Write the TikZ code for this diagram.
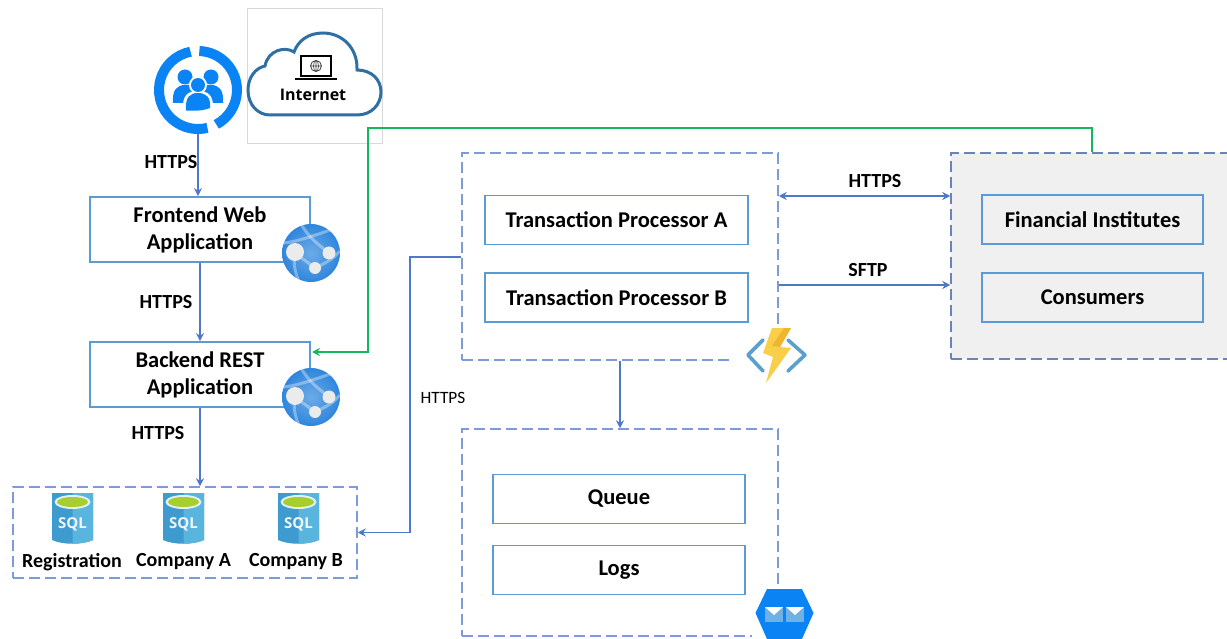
\documentclass[tikz,border=0pt]{standalone}
\usepackage{fontspec}
\setmainfont{Carlito}
\newfontfamily\iconfont{Open Sans}
\usetikzlibrary{arrows.meta,calc,shadings}
\definecolor{arrowblue}{HTML}{4F78C8}
\definecolor{boxblue}{HTML}{5B9BD5}
\definecolor{dashblue}{HTML}{7C9BDB}
\definecolor{dashgrey}{HTML}{6B84B5}
\definecolor{linkgreen}{HTML}{12B85A}
\definecolor{azure}{HTML}{0A84F5}
\definecolor{webblue}{HTML}{2F86DC}
\definecolor{cloudblue}{HTML}{2F6FA3}
\definecolor{panelgrey}{HTML}{F0F0F0}
\definecolor{sqlblue}{HTML}{3E9BD0}
\definecolor{sqllight}{HTML}{59B4DE}
\definecolor{sqlgreen}{HTML}{A6CF2E}
\definecolor{boltyellow}{HTML}{F9CF4A}
\definecolor{boltorange}{HTML}{F0B52E}
\definecolor{chevron}{HTML}{5AA0CF}
\tikzset{
  every node/.style={text=black,font=\fontsize{22.5}{26}\selectfont\bfseries,align=center,inner sep=0pt},
  proc/.style={draw=boxblue,line width=1.8pt,fill=white,minimum width=#1,minimum height=49pt},
  procg/.style={proc=#1,fill=panelgrey},
  app/.style={draw=boxblue,line width=1.8pt,fill=white,minimum width=220pt,minimum height=65pt},
  panel/.style={draw=dashblue,line width=1.5pt,dash pattern=on 11pt off 5pt},
  link/.style={draw=arrowblue,line width=1.8pt,-{Stealth[length=8pt,width=8pt]}},
  glink/.style={draw=linkgreen,line width=2pt,-{Stealth[length=8pt,width=8pt]}},
  lbl/.style={font=\fontsize{20}{22}\selectfont\bfseries},
  thin lbl/.style={font=\fontsize{17.3}{20}\selectfont},
  dbl/.style={font=\fontsize{20}{22}\selectfont\bfseries},
}
\newcommand{\webicon}[2]{%
  \begin{scope}[shift={(#1,#2)}]
    \shade[inner color=webblue!70!white,outer color=webblue] (0,0) circle[radius=29pt];
    \begin{scope}
      \clip (0,0) circle[radius=29pt];
      \draw[white,opacity=.35,line width=3pt] (-27,-10) .. controls (-10,-12) and (10,-20) .. (25,-25);
      \draw[white,opacity=.35,line width=3pt] (-10,-29) .. controls (-2,-15) and (8,-8) .. (18,0);
      \draw[white,opacity=.35,line width=3pt] (-16,0) -- (4,15);
      \draw[white,opacity=.35,line width=3pt] (-16,0) .. controls (-18,10) and (-16,20) .. (-12,28);
      \draw[white,opacity=.35,line width=3pt] (4,15) .. controls (14,10) and (20,8) .. (29,-2);
    \end{scope}
    \fill[white!92!black] (-16,-1) circle[radius=9pt];
    \fill[white!92!black] (18,0) circle[radius=6.5pt];
    \fill[white!92!black] (4,15) circle[radius=6pt];
  \end{scope}}
\newcommand{\sqlicon}[2]{%
  \begin{scope}[shift={(#1,#2)}]
    \fill[sqlblue] (-20.5,-25) -- (20.5,-25) -- (20.5,22) .. controls (10,27) and (-10,27) .. (-20.5,22) -- cycle;
    \fill[sqllight] (0,-25) -- (20.5,-25) -- (20.5,22) .. controls (14,25) and (7,25.5) .. (0,25.5) -- cycle;
    \fill[white!85!sqlblue] (0,-16) ellipse[x radius=18pt,y radius=7pt];
    \fill[sqlgreen] (0,-16) ellipse[x radius=15.5pt,y radius=5pt];
    \node[text=white!92!sqlblue,font=\iconfont\fontsize{15}{15}\selectfont\bfseries] at (0,6) {SQL};
  \end{scope}}
\begin{document}
\begin{tikzpicture}[x=1pt,y=-1pt]
\useasboundingbox (0,0) rectangle (1227,639);
\fill[white] (0,0) rectangle (1227,639);

% Panels
\node[panel,fill=panelgrey,draw=dashgrey,minimum width=285pt,minimum height=206pt] (fin) at (1093.5,256) {};
\node[panel,minimum width=316pt,minimum height=207pt] (proc) at (620,256.5) {};
\node[panel,minimum width=316pt,minimum height=207pt] (store) at (620,532.5) {};
\node[panel,minimum width=344pt,minimum height=91pt] (db) at (185,532.5) {};
\fill[white] (733,328) rectangle (816,386);
\fill[white] (752,587) rectangle (816,639);

% Internet tile
\node[draw=black!15,line width=.8pt,fill=white,minimum width=135pt,minimum height=135pt] (nettile) at (314.5,75.5) {};
\draw[cloudblue,line width=3pt,fill=white] (270,115) -- (357,115)
  .. controls (372,115) and (381,104) .. (381,92)
  .. controls (381,80) and (372,70) .. (357,70)
  .. controls (358,48) and (342,33) .. (323,33)
  .. controls (308,33) and (298,41) .. (294,52)
  .. controls (285,46) and (268,50) .. (265,66)
  .. controls (255,68) and (248,78) .. (248,90)
  .. controls (248,105) and (258,115) .. (270,115) -- cycle;
\draw[black,line width=1.5pt,fill=white] (301,56) rectangle (331,76);
\draw[black,line width=1.8pt] (295,79) -- (337,79);
\draw[black!75,line width=.8pt] (316,66) circle[radius=5.5pt] (316,60.5) -- (316,71.5) (310.5,66) -- (321.5,66);
\draw[black!75,line width=.6pt] (316,66) ellipse[x radius=2.5pt,y radius=5.5pt];
\node[font=\iconfont\fontsize{16}{16}\selectfont\bfseries] (nettext) at (313,95) {Internet};

% Users icon
\node[circle,minimum size=88pt] (users) at (198,90) {};
\draw[azure,line width=10pt] ([shift={(88:39pt)}]198,90) arc[start angle=88,end angle=-62,radius=39pt];
\draw[azure,line width=10pt] ([shift={(-76:39pt)}]198,90) arc[start angle=284,end angle=101,radius=39pt];
\fill[azure] (185,77) circle[radius=7.5pt] (211,77) circle[radius=7.5pt];
\fill[azure] (173,103) .. controls (172,90) and (177,85) .. (185,85) -- (211,85) .. controls (219,85) and (224,90) .. (223,103) -- cycle;
\fill[white] (198,85) circle[radius=9pt];
\fill[white] (183,110) .. controls (182,95) and (188,91) .. (198,91) .. controls (208,91) and (214,95) .. (213,110) -- cycle;
\fill[azure] (198,85) circle[radius=7pt];
\fill[azure] (186,110.5) .. controls (185,97) and (190,93) .. (198,93) .. controls (206,93) and (211,97) .. (210,108) .. controls (203,111) and (193,111) .. (186,110.5) -- cycle;

% Left boxes
\node[app] (front) at (200,229.5) {\raisebox{1pt}{Frontend Web}\\Application};
\node[app] (back) at (200,374.5) {\raisebox{1pt}{Backend REST}\\Application};
\webicon{311}{253}
\webicon{311}{397}

% Processor boxes
\node[proc=263pt] (pa) at (616.5,220) {Transaction Processor A};
\node[proc=263pt] (pb) at (616.5,297.5) {Transaction Processor B};
\node[proc=252pt] (queue) at (619,499) {Queue};
\node[proc=252pt] (logs) at (619,570) {Logs};
\node[procg=221pt] (fi) at (1092.5,219.5) {Financial Institutes};
\node[procg=221pt] (cons) at (1092.5,297.5) {Consumers};

% SQL
\sqlicon{72.5}{518}
\sqlicon{183.5}{518}
\sqlicon{298.5}{518}
\node[dbl] (dba) at (72,562) {Registration};
\node[dbl] (dbb) at (183.5,562) {Company A};
\node[dbl] (dbc) at (296,562) {Company B};

% Function icon
\draw[chevron,line width=3.6pt,line cap=round,line join=round] (763,340) -- (748,355) -- (763,371);
\draw[chevron,line width=3.6pt,line cap=round,line join=round] (788,340) -- (805,355) -- (788,371);
\fill[boltyellow] (772,328) -- (791,328) -- (780,347) -- (791,348) -- (766,383) -- (773,357) -- (763,353) -- cycle;
\fill[boltorange] (784,328) -- (791,328) -- (780,347) -- (772,346) -- cycle;

% Queue icon
\fill[azure] (767,589) -- (802,589) -- (813.5,613) -- (802,639) -- (767,639) -- (755.5,613) -- cycle;
\fill[cyan!40!azure!60!white] (765,607) rectangle (783,622);
\fill[white] (765,607) -- (783,607) -- (774,615) -- cycle;
\fill[cyan!40!azure!60!white] (786,607) rectangle (804,622);
\fill[white] (786,607) -- (804,607) -- (795,615) -- cycle;

% Connectors
\draw[link] (users.south) -- (front.north -| users.south);
\draw[link] (front.south) -- (back.north);
\draw[link] (back.south) -- (back.south |- db.north);
\coordinate (busx) at (410,257);
\draw[link] (proc.west |- busx) -- (busx) -- (busx |- db.east) -- (db.east);
\draw[link] (proc.south) -- (store.north);
\coordinate (httpy) at (778,196);
\coordinate (sftpy) at (778,285);
\draw[link,{Stealth[length=8pt,width=8pt]}-{Stealth[length=8pt,width=8pt]}] (proc.east |- httpy) -- (fin.west |- httpy);
\draw[link] (proc.east |- sftpy) -- (fin.west |- sftpy);
\coordinate (gtop) at (1092,128);
\coordinate (gleft) at (368,128);
\coordinate (gend) at (312,352);
\draw[glink] (gtop |- fin.north) -- (gtop) -- (gleft) -- (gleft |- gend) -- (gend);

% Labels
\node[lbl] (l1) at (171,162) {HTTPS};
\node[lbl] (l2) at (166,302) {HTTPS};
\node[lbl] (l3) at (158,433) {HTTPS};
\node[thin lbl] (l4) at (443,398) {HTTPS};
\node[lbl] (l5) at (875,181) {HTTPS};
\node[lbl] (l6) at (868,270) {SFTP};
\end{tikzpicture}
\end{document}
